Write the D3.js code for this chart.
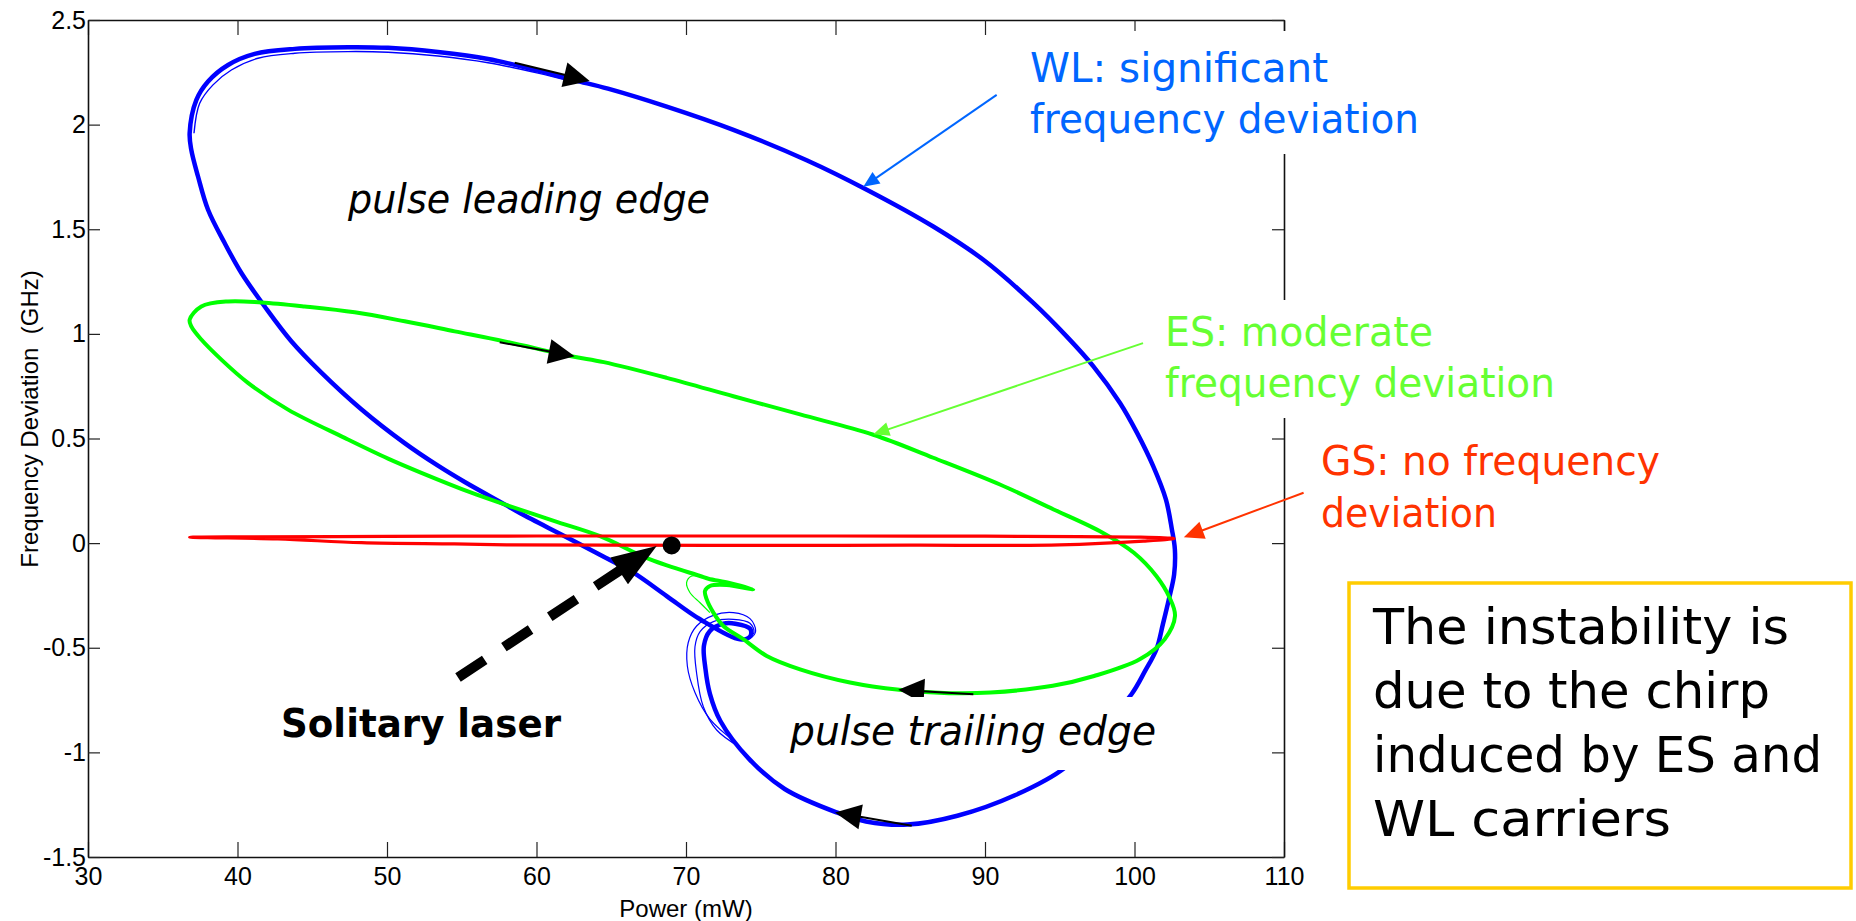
<!DOCTYPE html>
<html lang="en">
<head>
<meta charset="UTF-8">
<title>Frequency deviation vs power</title>
<script src="https://cdn.jsdelivr.net/npm/d3@7"></script>
<style>
  body { margin: 0; background: #fff; }
</style>
</head>
<body>
<script>
const width = 1856, height = 921;
const plot = { left: 88, right: 1284, top: 20, bottom: 857 };

const xTicks = [30, 40, 50, 60, 70, 80, 90, 100, 110];
const yTicks = [-1.5, -1, -0.5, 0, 0.5, 1, 1.5, 2, 2.5];

// WL trajectory [power mW, frequency deviation GHz], clockwise from leftmost point (closed)
const wlLoop = [
  [36.80, 1.959], [37.25, 2.118], [38.03, 2.206], [39.37, 2.285], [41.15, 2.338],
  [43.83, 2.362], [47.39, 2.370], [50.07, 2.367], [53.41, 2.347], [56.76, 2.314],
  [60.10, 2.258], [62.55, 2.212], [64.78, 2.172], [68.71, 2.086], [73.17, 1.975],
  [78.07, 1.830], [82.09, 1.689], [86.54, 1.513], [89.89, 1.354], [93.23, 1.148],
  [95.46, 0.988], [97.25, 0.845], [99.03, 0.670], [100.17, 0.527], [101.25, 0.368],
  [102.10, 0.209], [102.50, 0.066], [102.70, -0.030], [102.65, -0.150], [102.30, -0.268],
  [101.90, -0.387], [101.47, -0.507], [100.70, -0.612], [99.80, -0.722], [97.70, -0.889],
  [95.36, -1.072], [92.00, -1.205], [88.15, -1.303], [84.82, -1.345], [82.04, -1.330],
  [80.08, -1.287], [76.60, -1.175], [74.20, -1.030], [72.30, -0.850], [71.60, -0.720],
  [71.30, -0.600], [71.20, -0.490], [71.60, -0.420], [72.50, -0.385], [73.30, -0.385],
  [74.30, -0.410], [74.30, -0.445], [73.60, -0.460], [70.94, -0.364], [68.71, -0.253],
  [66.48, -0.141], [64.50, -0.065], [62.11, 0.025], [58.98, 0.140], [57.87, 0.185],
  [55.20, 0.292], [53.41, 0.370], [51.18, 0.478], [48.28, 0.640], [45.61, 0.815],
  [43.60, 0.965], [41.82, 1.131], [40.26, 1.291], [39.14, 1.434], [38.03, 1.593],
  [37.36, 1.752], [36.91, 1.879]
];
// inner strand of the WL bundle over the top arc
const wlInner = [
  [37.09, 1.959], [37.47, 2.102], [38.36, 2.190], [39.59, 2.261], [41.37, 2.317],
  [43.83, 2.341], [47.39, 2.349], [50.07, 2.346], [53.41, 2.328], [56.76, 2.296],
  [60.10, 2.246], [62.33, 2.206]
];
// thin strands of the WL curl near 72 mW
const wlCurlOuter = [
  [73.30, -0.950], [71.60, -0.841], [70.60, -0.714], [70.09, -0.587], [70.15, -0.475],
  [70.71, -0.396], [71.83, -0.345], [73.17, -0.332], [74.28, -0.361], [74.66, -0.420],
  [74.28, -0.456], [73.60, -0.460]
];
const wlCurlMid = [
  [73.60, -0.975], [72.05, -0.893], [71.16, -0.782], [70.71, -0.622], [70.60, -0.495],
  [70.94, -0.423], [71.83, -0.375], [73.17, -0.364], [74.28, -0.383], [74.55, -0.428],
  [74.10, -0.455]
];

// ES trajectory, clockwise from leftmost point (closed)
const esLoop = [
  [36.80, 1.068], [37.58, 1.131], [39.37, 1.155], [41.60, 1.150], [44.49, 1.131],
  [47.84, 1.103], [51.18, 1.060], [54.53, 1.012], [57.87, 0.964], [62.33, 0.893],
  [64.50, 0.865], [68.71, 0.790], [73.17, 0.702], [77.63, 0.615], [82.53, 0.518],
  [86.54, 0.408], [91.00, 0.280], [94.59, 0.161], [97.87, 0.050], [99.96, -0.046],
  [101.46, -0.157], [102.35, -0.261], [102.71, -0.348], [102.02, -0.459], [100.35, -0.555],
  [97.30, -0.635], [94.53, -0.682], [90.37, -0.714], [87.59, -0.717], [84.26, -0.701],
  [80.97, -0.666], [77.63, -0.603], [75.40, -0.539], [73.83, -0.459], [72.50, -0.396],
  [71.83, -0.332], [71.38, -0.268], [71.27, -0.229], [71.60, -0.205], [72.72, -0.200],
  [74.50, -0.221], [72.90, -0.190], [71.50, -0.170], [70.94, -0.157], [67.60, -0.078],
  [64.25, 0.033], [61.21, 0.105], [57.87, 0.185], [55.64, 0.241], [52.30, 0.336],
  [50.07, 0.404], [47.17, 0.503], [43.38, 0.638], [40.70, 0.766], [38.92, 0.877],
  [37.58, 0.973], [36.91, 1.036]
];
// outer strand of the ES hook
const esHook = [
  [71.38, -0.166], [70.38, -0.157], [70.04, -0.189], [70.27, -0.237], [70.94, -0.285],
  [71.60, -0.332]
];

// GS trajectory: upper trace to the right, lower trace back (closed)
const gsLoop = [
  [36.80, 0.028], [40, 0.030], [50, 0.032], [60, 0.034], [70, 0.034], [80, 0.034],
  [90, 0.033], [100, 0.029], [102.65, 0.022], [100.6, 0.010], [95, -0.008], [85, -0.010],
  [75, -0.011], [65, -0.010], [58, -0.008], [54.5, -0.004], [48.3, 0.002], [42.7, 0.020],
  [38, 0.026]
];

const solitaryPoint = [69.04, -0.011];

// direction arrows along the trajectories: [tail, tip]
const flowArrows = [
  [[58.54, 2.296], [63.56, 2.209]],
  [[57.54, 0.960], [62.55, 0.893]],
  [[89.22, -0.722], [84.20, -0.701]],
  [[85.10, -1.351], [79.97, -1.287]]
];

// callout arrows: [tail, tip]
const wlPointer = [[90.78, 2.142], [81.86, 1.703]];
const esPointer = [[100.57, 0.956], [82.53, 0.520]];
const gsPointer = [[111.31, 0.241], [103.30, 0.028]];
const solitaryPointer = [[54.75, -0.642], [68.04, -0.014]];

const wlNote = ['WL: significant', 'frequency deviation'];
const esNote = ['ES: moderate', 'frequency deviation'];
const gsNote = ['GS: no frequency', 'deviation'];
const boxNote = ['The instability is', 'due to the chirp', 'induced by ES and', 'WL carriers'];

const svg = d3.select('body').append('svg')
  .attr('width', width).attr('height', height)
  .style('font-family', '"DejaVu Sans", Verdana, sans-serif');

const xScale = d3.scaleLinear().domain([30, 110]).range([plot.left, plot.right]);
const yScale = d3.scaleLinear().domain([-1.5, 2.5]).range([plot.bottom, plot.top]);

// axes, ticks pointing inward on all four sides
function styleAxis(g) {
  g.attr('font-family', '"Liberation Sans", Arial, sans-serif').attr('font-size', 25);
  g.select('.domain').attr('stroke', '#111').attr('stroke-width', 1.6);
  g.selectAll('.tick line').attr('stroke', '#222').attr('stroke-width', 1.2);
  g.selectAll('.tick text').attr('fill', '#000');
}
svg.append('g').attr('transform', `translate(0,${plot.bottom})`)
  .call(d3.axisBottom(xScale).tickValues(xTicks).tickSizeInner(-15).tickSizeOuter(0)
    .tickPadding(10).tickFormat(d => String(d)))
  .call(styleAxis);
svg.append('g').attr('transform', `translate(0,${plot.top})`)
  .call(d3.axisTop(xScale).tickValues(xTicks).tickSizeInner(-15).tickSizeOuter(0).tickFormat(''))
  .call(styleAxis);
svg.append('g').attr('transform', `translate(${plot.left},0)`)
  .call(d3.axisLeft(yScale).tickValues(yTicks).tickSizeInner(-12).tickSizeOuter(0)
    .tickPadding(2).tickFormat(d => String(d)))
  .call(styleAxis);
svg.append('g').attr('transform', `translate(${plot.right},0)`)
  .call(d3.axisRight(yScale).tickValues(yTicks).tickSizeInner(-12).tickSizeOuter(0).tickFormat(''))
  .call(styleAxis);

svg.append('text')
  .attr('x', (plot.left + plot.right) / 2).attr('y', 917)
  .attr('text-anchor', 'middle')
  .attr('font-family', '"Liberation Sans", Arial, sans-serif').attr('font-size', 24)
  .text('Power (mW)');
svg.append('text')
  .attr('transform', 'translate(38,419) rotate(-90)')
  .attr('text-anchor', 'middle')
  .attr('font-family', '"Liberation Sans", Arial, sans-serif').attr('font-size', 24)
  .style('white-space', 'pre')
  .text('Frequency Deviation  (GHz)');

// trajectories
const loopLine = d3.line()
  .x(d => xScale(d[0]))
  .y(d => yScale(d[1]))
  .curve(d3.curveCatmullRomClosed.alpha(0.5));
const openLine = d3.line()
  .x(d => xScale(d[0]))
  .y(d => yScale(d[1]))
  .curve(d3.curveCatmullRom.alpha(0.5));

const curves = svg.append('g').attr('fill', 'none').attr('stroke-linejoin', 'round');
curves.append('path').attr('d', loopLine(wlLoop)).attr('stroke', '#0000ff').attr('stroke-width', 4.5);
curves.append('path').attr('d', openLine(wlInner)).attr('stroke', '#0000ff').attr('stroke-width', 1.4);
curves.append('path').attr('d', openLine(wlCurlOuter)).attr('stroke', '#0000ff').attr('stroke-width', 1.2);
curves.append('path').attr('d', openLine(wlCurlMid)).attr('stroke', '#0000ff').attr('stroke-width', 1.2);
curves.append('path').attr('d', loopLine(esLoop)).attr('stroke', '#00ff00').attr('stroke-width', 4);
curves.append('path').attr('d', openLine(esHook)).attr('stroke', '#00ff00').attr('stroke-width', 1.2);
curves.append('path').attr('d', loopLine(gsLoop)).attr('stroke', '#ff0000').attr('stroke-width', 3.2);

function px(p) { return [xScale(p[0]), yScale(p[1])]; }

function drawArrow(g, pair, color, lineWidth, headLen, headHalf, dash) {
  const tail = px(pair[0]), tip = px(pair[1]);
  const dx = tip[0] - tail[0], dy = tip[1] - tail[1];
  const len = Math.hypot(dx, dy);
  const ux = dx / len, uy = dy / len;
  const bx = tip[0] - ux * headLen, by = tip[1] - uy * headLen;
  const ln = g.append('line')
    .attr('x1', tail[0]).attr('y1', tail[1])
    .attr('x2', bx + ux * 2).attr('y2', by + uy * 2)
    .attr('stroke', color).attr('stroke-width', lineWidth);
  if (dash) ln.attr('stroke-dasharray', dash);
  g.append('path')
    .attr('d', `M${tip[0]},${tip[1]}L${bx - uy * headHalf},${by + ux * headHalf}L${bx + uy * headHalf},${by - ux * headHalf}Z`)
    .attr('fill', color);
}

const arrows = svg.append('g');
flowArrows.forEach(a => drawArrow(arrows, a, '#000', 2, 26, 12.5));

svg.append('circle')
  .attr('cx', xScale(solitaryPoint[0])).attr('cy', yScale(solitaryPoint[1]))
  .attr('r', 9).attr('fill', '#000');
drawArrow(arrows, solitaryPointer, '#000', 10, 45, 16, '32,23');

// text boxes with white backgrounds
function note(lines, x, baselines, widths, opts) {
  const g = svg.append('g');
  if (opts.bg) {
    g.append('rect').attr('x', opts.bg[0]).attr('y', opts.bg[1])
      .attr('width', opts.bg[2]).attr('height', opts.bg[3]).attr('fill', '#fff');
  }
  lines.forEach((t, i) => {
    g.append('text')
      .attr('x', x).attr('y', baselines[i])
      .attr('textLength', widths[i]).attr('lengthAdjust', 'spacingAndGlyphs')
      .attr('font-size', opts.size)
      .attr('font-style', opts.italic ? 'italic' : 'normal')
      .attr('font-weight', opts.bold ? 'bold' : 'normal')
      .attr('fill', opts.color)
      .text(t);
  });
  return g;
}

note(['pulse leading edge'], 348, [213], [362], { size: 41, italic: true, color: '#000' });
note(['pulse trailing edge'], 790, [745], [366], { size: 41, italic: true, color: '#000', bg: [785, 697, 378, 73] });
note(['Solitary laser'], 281, [737], [280], { size: 39, bold: true, color: '#000' });
note(wlNote, 1030, [81.7, 132.7], [298, 389], { size: 41, color: '#0066ff', bg: [1025, 31, 400, 123] });
note(esNote, 1165, [346, 396.7], [268, 390], { size: 41, color: '#66ff33', bg: [1160, 300, 400, 118] });
note(gsNote, 1321, [475, 526.7], [339, 176], { size: 41, color: '#ff3300' });

const pointers = svg.append('g');
drawArrow(pointers, wlPointer, '#0066ff', 2, 16, 7);
drawArrow(pointers, esPointer, '#66ff33', 2, 16, 7);
drawArrow(pointers, gsPointer, '#ff3300', 2, 20, 9);

// yellow framed conclusion
svg.append('rect')
  .attr('x', 1349).attr('y', 583).attr('width', 502).attr('height', 305)
  .attr('fill', '#fff').attr('stroke', '#ffcc00').attr('stroke-width', 3.5);
note(boxNote, 1373, [644, 708, 772, 836], [416, 397, 449, 298], { size: 50, color: '#000' });
</script>
</body>
</html>
